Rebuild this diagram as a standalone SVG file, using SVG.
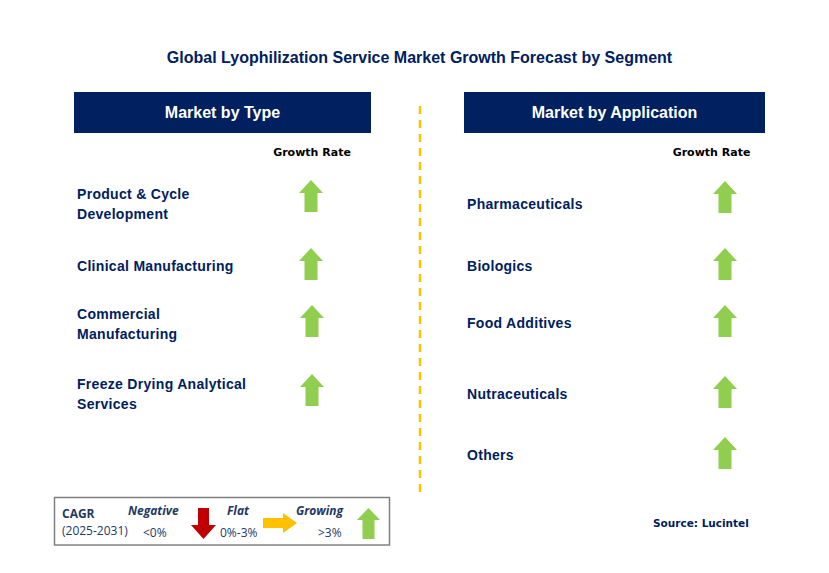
<svg xmlns="http://www.w3.org/2000/svg" width="829" height="573" viewBox="0 0 829 573">
<defs>
<style>
.title{font-family:"Liberation Sans",Arial,sans-serif;font-weight:bold;font-size:16px;fill:#002060}
.hdr{fill:#002060}
.hdrt{font-family:"Liberation Sans",Arial,sans-serif;font-weight:bold;font-size:16px;fill:#ffffff}
.lbl{font-family:"Liberation Sans",Arial,sans-serif;font-weight:bold;font-size:14px;fill:#002060;letter-spacing:0.3px}
.gr{font-family:"DejaVu Sans",Verdana,sans-serif;font-weight:bold;font-size:11px;fill:#000000}
.up{fill:#8FCE4F}
.lg{font-family:"Open Sans","Liberation Sans",sans-serif;font-size:12px;fill:#1F3864}
.lgb{font-family:"Open Sans","Liberation Sans",sans-serif;font-size:12px;font-weight:bold;fill:#1F3864}
.lgi{font-family:"Open Sans","Liberation Sans",sans-serif;font-size:12px;font-weight:bold;font-style:italic;fill:#1F3864}
.src{font-family:"DejaVu Sans",Verdana,sans-serif;font-weight:bold;font-size:10.5px;fill:#002060}
</style>
<path id="arr" d="M0,-16 L12,-3 L6.5,-3 L6.5,16 L-6.5,16 L-6.5,-3 L-12,-3 Z"/>
</defs>
<rect width="829" height="573" fill="#ffffff"/>
<text class="title" x="419.5" y="63" text-anchor="middle">Global Lyophilization Service Market Growth Forecast by Segment</text>

<g id="connectors">
<line x1="420" y1="106" x2="420" y2="492" stroke="#FFC000" stroke-width="2.5" stroke-dasharray="8 6"/>
</g>

<g id="header-type">
<rect class="hdr" x="74" y="92" width="297" height="41"/>
<text class="hdrt" x="222.5" y="118" text-anchor="middle">Market by Type</text>
</g>
<g id="header-application">
<rect class="hdr" x="464" y="92" width="301" height="41"/>
<text class="hdrt" x="614.5" y="118" text-anchor="middle">Market by Application</text>
</g>

<g id="growth-rate-left"><text class="gr" x="312" y="156" text-anchor="middle">Growth Rate</text></g>
<g id="growth-rate-right"><text class="gr" x="711.5" y="156" text-anchor="middle">Growth Rate</text></g>

<g id="type-product-cycle">
<text class="lbl" x="77" y="199">Product &amp; Cycle</text>
<text class="lbl" x="77" y="219">Development</text>
<use href="#arr" class="up" x="311" y="196"/>
</g>
<g id="type-clinical">
<text class="lbl" x="77" y="271">Clinical Manufacturing</text>
<use href="#arr" class="up" x="311" y="264"/>
</g>
<g id="type-commercial">
<text class="lbl" x="77" y="319">Commercial</text>
<text class="lbl" x="77" y="339">Manufacturing</text>
<use href="#arr" class="up" x="312" y="321"/>
</g>
<g id="type-freeze-drying">
<text class="lbl" x="77" y="389">Freeze Drying Analytical</text>
<text class="lbl" x="77" y="409">Services</text>
<use href="#arr" class="up" x="312" y="390"/>
</g>

<g id="app-pharma">
<text class="lbl" x="467" y="209">Pharmaceuticals</text>
<use href="#arr" class="up" x="725" y="197"/>
</g>
<g id="app-biologics">
<text class="lbl" x="467" y="271">Biologics</text>
<use href="#arr" class="up" x="725" y="264"/>
</g>
<g id="app-food">
<text class="lbl" x="467" y="328">Food Additives</text>
<use href="#arr" class="up" x="725" y="321"/>
</g>
<g id="app-nutra">
<text class="lbl" x="467" y="399">Nutraceuticals</text>
<use href="#arr" class="up" x="725" y="392"/>
</g>
<g id="app-others">
<text class="lbl" x="467" y="460">Others</text>
<use href="#arr" class="up" x="725" y="453"/>
</g>

<g id="legend">
<rect x="54.5" y="497.5" width="335" height="47.5" fill="#ffffff" stroke="#808080" stroke-width="1.5"/>
<text class="lgb" x="62" y="518">CAGR</text>
<text class="lg" x="62" y="535">(2025-2031)</text>
<text class="lgi" x="128" y="515">Negative</text>
<text class="lg" x="143" y="537">&lt;0%</text>
<path d="M198,508 L209,508 L209,525 L216,525 L203.5,539 L191,525 L198,525 Z" fill="#C00000"/>
<text class="lgi" x="227" y="515">Flat</text>
<text class="lg" x="220" y="537">0%-3%</text>
<path d="M263,518 L283,518 L283,513 L297,523 L283,533 L283,528 L263,528 Z" fill="#FFC000"/>
<text class="lgi" x="296" y="515">Growing</text>
<text class="lg" x="318" y="537">&gt;3%</text>
<path d="M368.5,508 L380,520 L374.5,520 L374.5,539 L362.5,539 L362.5,520 L357,520 Z" fill="#8FCE4F"/>
</g>

<g id="source"><text class="src" x="653" y="527">Source: Lucintel</text></g>
</svg>
